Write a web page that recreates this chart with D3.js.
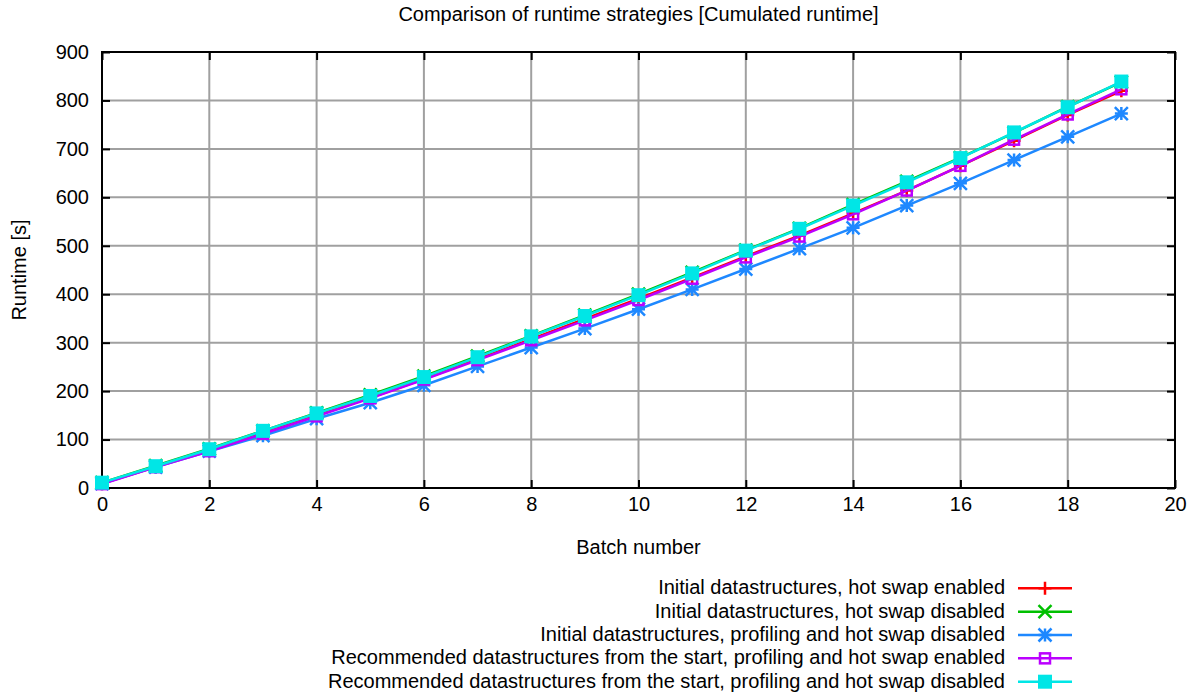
<!DOCTYPE html>
<html>
<head>
<meta charset="utf-8">
<script src="https://cdn.jsdelivr.net/npm/d3@7"></script>
<style>
  body { margin: 0; background: #fff; }
  text { font-family: "Liberation Sans", Arial, sans-serif; fill: #000; }
</style>
</head>
<body>
<script>
// batch numbers and cumulated runtimes
const batches = d3.range(0, 20);

const hotSwapOn     = [9, 44, 78, 113, 150, 186, 225, 266, 307, 349, 391, 434, 478, 521, 567, 614, 665, 717, 770, 820];
const hotSwapOff    = [11, 46, 81, 118, 155, 192, 231, 272, 314, 357, 400, 445, 491, 536, 585, 633, 682, 733, 787, 838];
const allOff        = [9, 43, 76, 108, 143, 176, 212, 251, 290, 329, 369, 410, 452, 494, 537, 583, 629, 677, 725, 773];
const recommendedOn = [8, 43, 76, 112, 148, 185, 224, 264, 305, 346, 388, 432, 476, 519, 565, 614, 665, 719, 771, 823];
const recommendedOff = [11, 45, 80, 118, 154, 190, 229, 270, 313, 355, 398, 443, 490, 535, 583, 631, 681, 734, 786, 839];

const seriesNames = [
  "Initial datastructures, hot swap enabled",
  "Initial datastructures, hot swap disabled",
  "Initial datastructures, profiling and hot swap disabled",
  "Recommended datastructures from the start, profiling and hot swap enabled",
  "Recommended datastructures from the start, profiling and hot swap disabled"
];
const seriesValues = [hotSwapOn, hotSwapOff, allOff, recommendedOn, recommendedOff];
const seriesColors = ["#ff0000", "#00c000", "#1e88ff", "#bb00ff", "#00e6e6"];
const seriesMarkers = ["plus", "cross", "star", "openSquare", "fillSquare"];

const xTicks = d3.range(0, 21, 2);
const yTicks = d3.range(0, 901, 100);

const width = 1201, height = 697;
const margin = { left: 102, right: 26, top: 52, bottom: 209 };
const fontSize = "20px";
const lineW = 2.5;

const svg = d3.select("body").append("svg")
  .attr("width", width)
  .attr("height", height);

const x = d3.scaleLinear().domain([0, 20]).range([margin.left, width - margin.right]);
const y = d3.scaleLinear().domain([0, 900]).range([height - margin.bottom, margin.top]);

// grid
svg.append("g").selectAll("line")
  .data(xTicks.slice(1, -1))
  .enter().append("line")
  .attr("x1", d => x(d)).attr("x2", d => x(d))
  .attr("y1", y(0)).attr("y2", y(900))
  .attr("stroke", "#a0a0a0").attr("stroke-width", 2);

svg.append("g").selectAll("line")
  .data(yTicks.slice(1, -1))
  .enter().append("line")
  .attr("x1", x(0)).attr("x2", x(20))
  .attr("y1", d => y(d)).attr("y2", d => y(d))
  .attr("stroke", "#a0a0a0").attr("stroke-width", 2);

// axes with inward ticks, mirrored on top and right
const tickLen = 8;
svg.append("g")
  .attr("transform", `translate(0,${y(0)})`)
  .call(d3.axisBottom(x).tickValues(xTicks).tickSizeInner(-tickLen).tickSizeOuter(0).tickPadding(9))
  .call(g => g.select(".domain").remove());
svg.append("g")
  .attr("transform", `translate(0,${y(900)})`)
  .call(d3.axisTop(x).tickValues(xTicks).tickSizeInner(-tickLen).tickSizeOuter(0).tickFormat(""))
  .call(g => g.select(".domain").remove());
svg.append("g")
  .attr("transform", `translate(${x(0)},0)`)
  .call(d3.axisLeft(y).tickValues(yTicks).tickSizeInner(-tickLen).tickSizeOuter(0).tickPadding(13))
  .call(g => g.select(".domain").remove());
svg.append("g")
  .attr("transform", `translate(${x(20)},0)`)
  .call(d3.axisRight(y).tickValues(yTicks).tickSizeInner(-tickLen).tickSizeOuter(0).tickFormat(""))
  .call(g => g.select(".domain").remove());

svg.selectAll(".tick line").attr("stroke", "#000").attr("stroke-width", 2);
svg.selectAll(".tick text").style("font-size", fontSize).style("font-family", "'Liberation Sans', Arial, sans-serif");

// frame
svg.append("rect")
  .attr("x", x(0)).attr("y", y(900))
  .attr("width", x(20) - x(0)).attr("height", y(0) - y(900))
  .attr("fill", "none").attr("stroke", "#000").attr("stroke-width", 2);

// point markers
function drawMarker(g, type, color, cx, cy) {
  const s = 6.5;
  if (type === "plus") {
    g.append("path").attr("d", `M${cx - s},${cy}H${cx + s}M${cx},${cy - s}V${cy + s}`)
      .attr("stroke", color).attr("stroke-width", lineW);
  } else if (type === "cross") {
    g.append("path").attr("d", `M${cx - s},${cy - s}L${cx + s},${cy + s}M${cx - s},${cy + s}L${cx + s},${cy - s}`)
      .attr("stroke", color).attr("stroke-width", lineW);
  } else if (type === "star") {
    g.append("path").attr("d", `M${cx - s},${cy}H${cx + s}M${cx},${cy - s}V${cy + s}M${cx - s},${cy - s}L${cx + s},${cy + s}M${cx - s},${cy + s}L${cx + s},${cy - s}`)
      .attr("stroke", color).attr("stroke-width", lineW);
  } else if (type === "openSquare") {
    g.append("rect").attr("x", cx - 5).attr("y", cy - 5).attr("width", 10).attr("height", 10)
      .attr("fill", "none").attr("stroke", color).attr("stroke-width", lineW);
  } else {
    g.append("rect").attr("x", cx - 7).attr("y", cy - 7).attr("width", 14).attr("height", 14)
      .attr("fill", color);
  }
}

const line = d3.line().x((d, i) => x(batches[i])).y(d => y(d));

seriesValues.forEach((vals, k) => {
  const g = svg.append("g");
  g.append("path")
    .datum(vals)
    .attr("d", line)
    .attr("fill", "none")
    .attr("stroke", seriesColors[k])
    .attr("stroke-width", lineW);
  vals.forEach((v, i) => drawMarker(g, seriesMarkers[k], seriesColors[k], x(batches[i]), y(v)));
});

// titles
svg.append("text")
  .attr("x", (x(0) + x(20)) / 2).attr("y", 21)
  .attr("text-anchor", "middle")
  .style("font-size", fontSize)
  .text("Comparison of runtime strategies [Cumulated runtime]");

svg.append("text")
  .attr("x", (x(0) + x(20)) / 2).attr("y", 554)
  .attr("text-anchor", "middle")
  .style("font-size", fontSize)
  .text("Batch number");

svg.append("text")
  .attr("transform", `translate(26,${(y(0) + y(900)) / 2}) rotate(-90)`)
  .attr("text-anchor", "middle")
  .style("font-size", fontSize)
  .text("Runtime [s]");

// legend
const legend = svg.append("g");
seriesNames.forEach((name, k) => {
  const ly = 588.3 + k * 23.35;
  legend.append("text")
    .attr("x", 1005).attr("y", ly + 6)
    .attr("text-anchor", "end")
    .style("font-size", fontSize)
    .text(name);
  legend.append("line")
    .attr("x1", 1018).attr("x2", 1072)
    .attr("y1", ly).attr("y2", ly)
    .attr("stroke", seriesColors[k]).attr("stroke-width", lineW);
  drawMarker(legend, seriesMarkers[k], seriesColors[k], 1045, ly);
});
</script>
</body>
</html>
